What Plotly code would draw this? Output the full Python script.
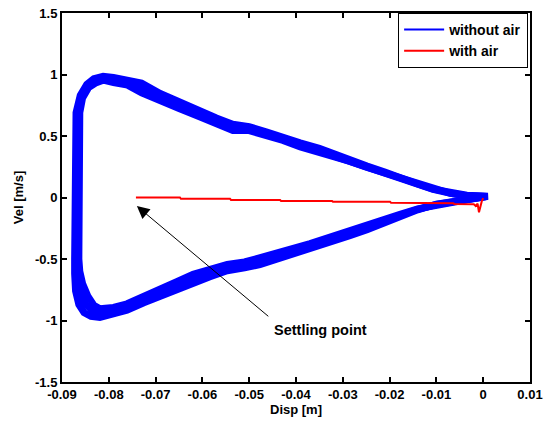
import plotly.graph_objects as go

# Phase portrait: displacement [m] vs velocity [m/s]
# Three traced cycles of the motion without air damping (they form the thick band)
cycle1_disp = [
    -0.0873, -0.0873, -0.0873, -0.0870, -0.0861, -0.0847, -0.0832, -0.0812,
    -0.0790, -0.0760, -0.0730, -0.0690, -0.0650, -0.0605, -0.0570, -0.0535,
    -0.0500, -0.0462, -0.0428, -0.0391, -0.0350, -0.0321, -0.0285, -0.0248,
    -0.0210, -0.0178, -0.0140, -0.0107, -0.0070, -0.0035, 0.0010,
    -0.0035, -0.0070, -0.0100, -0.0140, -0.0178, -0.0210, -0.0248, -0.0285,
    -0.0330, -0.0370, -0.0406, -0.0440, -0.0477, -0.0510, -0.0547, -0.0585,
    -0.0620, -0.0655, -0.0690, -0.0725, -0.0761, -0.0790, -0.0819, -0.0838,
    -0.0853, -0.0864, -0.0871, -0.0873, -0.0873,
]
cycle1_vel = [
    -0.50, 0.00, 0.50, 0.69, 0.83, 0.92, 0.965, 0.986,
    0.976, 0.956, 0.931, 0.846, 0.776, 0.696, 0.646, 0.596,
    0.576, 0.531, 0.486, 0.444, 0.400, 0.356, 0.306, 0.256,
    0.206, 0.156, 0.110, 0.068, 0.036, 0.018, 0.010,
    -0.012, -0.032, -0.054, -0.100, -0.160, -0.205, -0.262, -0.310,
    -0.366, -0.406, -0.456, -0.496, -0.546, -0.571, -0.596, -0.646,
    -0.696, -0.746, -0.796, -0.856, -0.916, -0.951, -0.976, -0.966,
    -0.935, -0.870, -0.760, -0.620, -0.500,
]

cycle2_disp = [
    -0.0864, -0.0864, -0.0864, -0.0862, -0.0856, -0.0843, -0.0828, -0.0812,
    -0.0790, -0.0760, -0.0730, -0.0690, -0.0650, -0.0605, -0.0570, -0.0535,
    -0.0500, -0.0462, -0.0428, -0.0391, -0.0350, -0.0321, -0.0285, -0.0248,
    -0.0210, -0.0178, -0.0140, -0.0107, -0.0070, -0.0035, 0.0008,
    -0.0035, -0.0070, -0.0100, -0.0140, -0.0178, -0.0210, -0.0248, -0.0285,
    -0.0330, -0.0370, -0.0406, -0.0440, -0.0477, -0.0510, -0.0547, -0.0585,
    -0.0620, -0.0655, -0.0690, -0.0725, -0.0761, -0.0790, -0.0819, -0.0832,
    -0.0845, -0.0856, -0.0862, -0.0864,
]
cycle2_vel = [
    -0.50, 0.00, 0.50, 0.69, 0.81, 0.895, 0.93, 0.954,
    0.934, 0.914, 0.850, 0.794, 0.724, 0.654, 0.594, 0.544,
    0.544, 0.504, 0.464, 0.411, 0.370, 0.344, 0.294, 0.244,
    0.199, 0.154, 0.110, 0.065, 0.034, 0.012, 0.008,
    -0.018, -0.038, -0.060, -0.092, -0.136, -0.178, -0.225, -0.272,
    -0.334, -0.374, -0.414, -0.454, -0.494, -0.524, -0.544, -0.584,
    -0.624, -0.684, -0.744, -0.804, -0.864, -0.894, -0.905, -0.875,
    -0.800, -0.700, -0.600, -0.500,
]

cycle3_disp = [
    -0.0869, -0.0869, -0.0869, -0.0866, -0.0858, -0.0845, -0.0830, -0.0812,
    -0.0790, -0.0760, -0.0730, -0.0690, -0.0650, -0.0605, -0.0570, -0.0535,
    -0.0500, -0.0462, -0.0428, -0.0391, -0.0350, -0.0321, -0.0285, -0.0248,
    -0.0210, -0.0178, -0.0140, -0.0107, -0.0070, -0.0035, 0.0009,
    -0.0035, -0.0070, -0.0100, -0.0140, -0.0178, -0.0210, -0.0248, -0.0285,
    -0.0330, -0.0370, -0.0406, -0.0440, -0.0477, -0.0510, -0.0547, -0.0585,
    -0.0620, -0.0655, -0.0690, -0.0725, -0.0761, -0.0790, -0.0819, -0.0835,
    -0.0849, -0.0860, -0.0866, -0.0869, -0.0869,
]
cycle3_vel = [
    -0.50, 0.00, 0.50, 0.69, 0.82, 0.905, 0.945, 0.970,
    0.955, 0.935, 0.890, 0.820, 0.750, 0.675, 0.620, 0.570,
    0.560, 0.518, 0.475, 0.428, 0.385, 0.350, 0.300, 0.250,
    0.203, 0.155, 0.110, 0.066, 0.035, 0.015, 0.009,
    -0.015, -0.035, -0.057, -0.096, -0.148, -0.190, -0.243, -0.290,
    -0.350, -0.390, -0.435, -0.475, -0.520, -0.548, -0.570, -0.615,
    -0.660, -0.715, -0.770, -0.830, -0.890, -0.922, -0.940, -0.920,
    -0.870, -0.790, -0.680, -0.580, -0.500,
]

# Motion with air: settles along the axis
air_disp = [
    -0.0742, -0.0648, -0.0646, -0.0541, -0.0539, -0.0434, -0.0432, -0.0323,
    -0.0321, -0.0199, -0.0197, -0.0107, -0.0105, -0.0064, -0.0062, -0.0020,
    -0.0016, -0.0012, -0.0009, -0.0006, -0.0003, 0.0000,
]
air_vel = [
    0.000, 0.000, -0.010, -0.010, -0.020, -0.020, -0.028, -0.028,
    -0.035, -0.035, -0.042, -0.042, -0.047, -0.047, -0.052, -0.055,
    -0.070, -0.050, -0.120, -0.060, -0.030, -0.005,
]

x_ticks = [-0.09, -0.08, -0.07, -0.06, -0.05, -0.04, -0.03, -0.02, -0.01, 0.0, 0.01]
x_tick_labels = ["-0.09", "-0.08", "-0.07", "-0.06", "-0.05", "-0.04", "-0.03",
                 "-0.02", "-0.01", "0", "0.01"]
y_ticks = [-1.5, -1.0, -0.5, 0.0, 0.5, 1.0, 1.5]
y_tick_labels = ["-1.5", "-1", "-0.5", "0", "0.5", "1", "1.5"]

settling_point = (-0.0740, -0.07)
settling_label = (-0.0456, -0.976)

FONT = "Liberation Sans, Arial, Helvetica, sans-serif"
BLUE = "#0000ff"
RED = "#ff0000"

fig = go.Figure()

for dx, vy in ((cycle1_disp, cycle1_vel), (cycle3_disp, cycle3_vel),
               (cycle2_disp, cycle2_vel)):
    fig.add_trace(go.Scatter(x=dx, y=vy, mode="lines", showlegend=False,
                             line=dict(color=BLUE, width=7)))

fig.add_trace(go.Scatter(x=air_disp, y=air_vel, mode="lines", showlegend=False,
                         line=dict(color=RED, width=2)))

# legend entries
fig.add_trace(go.Scatter(x=[None], y=[None], mode="lines", name="without air",
                         line=dict(color=BLUE, width=2)))
fig.add_trace(go.Scatter(x=[None], y=[None], mode="lines", name="with air",
                         line=dict(color=RED, width=2)))

fig.add_annotation(x=settling_point[0], y=settling_point[1],
                   ax=settling_label[0], ay=settling_label[1],
                   axref="x", ayref="y", xref="x", yref="y",
                   text="", showarrow=True, arrowhead=2, arrowsize=2.5,
                   arrowwidth=1, arrowcolor="black")
fig.add_annotation(x=settling_label[0] + 0.0004, y=settling_label[1] - 0.10,
                   xref="x", yref="y", text="Settling point", showarrow=False,
                   xanchor="left", yanchor="middle",
                   font=dict(family=FONT, size=14.5, color="black", weight="bold"))

axis_common = dict(showline=True, linecolor="black", linewidth=2, mirror="ticks",
                   ticks="inside", ticklen=5, tickwidth=1.5, tickcolor="black",
                   showgrid=False, zeroline=False, automargin=False,
                   tickfont=dict(family=FONT, size=13, color="black", weight="bold"))

fig.update_xaxes(range=[-0.09, 0.01], tickvals=x_ticks, ticktext=x_tick_labels,
                 ticklabelstandoff=-1,
                 title=dict(text="Disp [m]", standoff=3,
                            font=dict(family=FONT, size=13, color="black", weight="bold")),
                 **axis_common)
fig.update_yaxes(range=[-1.5, 1.5], tickvals=y_ticks, ticktext=y_tick_labels,
                 title=dict(text="Vel [m/s]", standoff=8,
                            font=dict(family=FONT, size=13, color="black", weight="bold")),
                 **axis_common)

fig.update_layout(
    width=544, height=421,
    margin=dict(l=62, r=14, t=13, b=39),
    paper_bgcolor="white", plot_bgcolor="white",
    font=dict(family=FONT, size=13, color="black"),
    legend=dict(x=0.996, y=1.0, xanchor="right", yanchor="top",
                bgcolor="white", bordercolor="black", borderwidth=1,
                font=dict(family=FONT, size=14, color="black", weight="bold"),
                itemwidth=40, tracegroupgap=0),
)

fig.write_html("out.html")
